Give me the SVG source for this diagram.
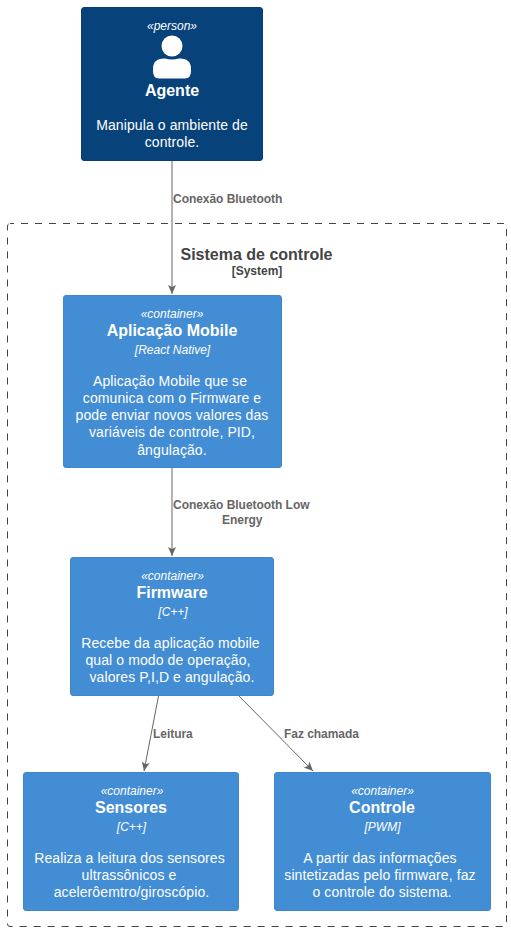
<svg xmlns="http://www.w3.org/2000/svg" width="511" height="932" viewBox="0 0 511 932">
<defs>
<style>
text{font-family:"Liberation Sans",Arial,sans-serif;text-anchor:middle}
.n text{fill:#fff}
.st{font-size:12px;font-style:italic}
.t{font-size:16px;font-weight:bold}
.d{font-size:14px;letter-spacing:.1px}
.e{font-size:12px;font-weight:bold;fill:#666;text-anchor:start;letter-spacing:-.04px}
.c{fill:#438DD5;stroke:#3F86CB;stroke-width:1}
.l{fill:none;stroke:#666;stroke-width:1}
</style>
<marker id="a" markerUnits="userSpaceOnUse" markerWidth="10" markerHeight="10" refX="9" refY="4" orient="auto"><path d="M0 0L9 4L0 8L2 4Z" fill="#666"/></marker>
</defs>
<rect width="511" height="932" fill="#fff"/>
<g id="boundary">
<rect x="7.500" y="223.500" width="499" height="703" rx="2.500" fill="none" stroke="#444" stroke-dasharray="7,7" stroke-dashoffset="3"/>
<text x="256.500" y="260" font-size="16" font-weight="bold" fill="#444">Sistema de controle</text>
<text x="257" y="275" font-size="12" font-weight="bold" fill="#444">[System]</text>
</g>
<g id="connectors">
<path class="l" d="M172 161V294" marker-end="url(#a)"/>
<path class="l" d="M172 468V556" marker-end="url(#a)"/>
<path class="l" d="M158.500 696L144 771" marker-end="url(#a)"/>
<path class="l" d="M239 696L313 771" marker-end="url(#a)"/>
<text class="e" x="173" y="203">Conexão Bluetooth</text>
<text class="e" x="173" y="509">Conexão Bluetooth Low</text>
<text class="e" x="222" y="524">Energy</text>
<text class="e" x="153" y="738">Leitura</text>
<text class="e" x="284" y="738">Faz chamada</text>
</g>
<g id="agente" class="n">
<rect x="81.500" y="7.500" width="181" height="153" rx="2.500" fill="#08427B" stroke="#073F75"/>
<text class="st" x="172" y="30">«person»</text>
<circle cx="172" cy="46" r="10.500" fill="#fff"/>
<path d="M153 71V69Q153 58 165 58.500Q172 60.500 179 58.500Q191 58 191 69V71Q191 78.500 185 78.500H159Q153 78.500 153 71Z" fill="#fff"/>
<text class="t" x="172" y="96">Agente</text>
<text class="d" x="172" y="130">Manipula o ambiente de</text>
<text class="d" x="172" y="147">controle.</text>
</g>
<g id="aplicacao" class="n">
<rect class="c" x="63.500" y="295.500" width="218" height="172" rx="2.500"/>
<text class="st" x="172" y="318">«container»</text>
<text class="t" x="172" y="336">Aplicação Mobile</text>
<text class="st" x="172.500" y="354">[React Native]</text>
<text class="d" x="170" y="386">Aplicação Mobile que se</text>
<text class="d" x="172" y="403">comunica com o Firmware e</text>
<text class="d" x="172" y="420">pode enviar novos valores das</text>
<text class="d" x="172" y="437">variáveis de controle, PID,</text>
<text class="d" x="172" y="455">ângulação.</text>
</g>
<g id="firmware" class="n">
<rect class="c" x="70.500" y="557.500" width="203" height="138" rx="2.500"/>
<text class="st" x="172.500" y="580">«container»</text>
<text class="t" x="172" y="598">Firmware</text>
<text class="st" x="173" y="616">[C++]</text>
<text class="d" x="170.500" y="648">Recebe da aplicação mobile</text>
<text class="d" x="168" y="665">qual o modo de operação,</text>
<text class="d" x="172" y="682">valores P,I,D e angulação.</text>
</g>
<g id="sensores" class="n">
<rect class="c" x="23.500" y="772.500" width="215" height="138" rx="2.500"/>
<text class="st" x="132" y="795">«container»</text>
<text class="t" x="131" y="813">Sensores</text>
<text class="st" x="131.500" y="831">[C++]</text>
<text class="d" x="129.500" y="863">Realiza a leitura dos sensores</text>
<text class="d" x="129" y="880">ultrassônicos e</text>
<text class="d" x="131.500" y="897">acelerôemtro/giroscópio.</text>
</g>
<g id="controle" class="n">
<rect class="c" x="274.500" y="772.500" width="216" height="138" rx="2.500"/>
<text class="st" x="382.500" y="795">«container»</text>
<text class="t" x="382" y="813">Controle</text>
<text class="st" x="382.500" y="831">[PWM]</text>
<text class="d" x="380" y="863">A partir das informações</text>
<text class="d" x="380" y="880">sintetizadas pelo firmware, faz</text>
<text class="d" x="382" y="897">o controle do sistema.</text>
</g>
</svg>
